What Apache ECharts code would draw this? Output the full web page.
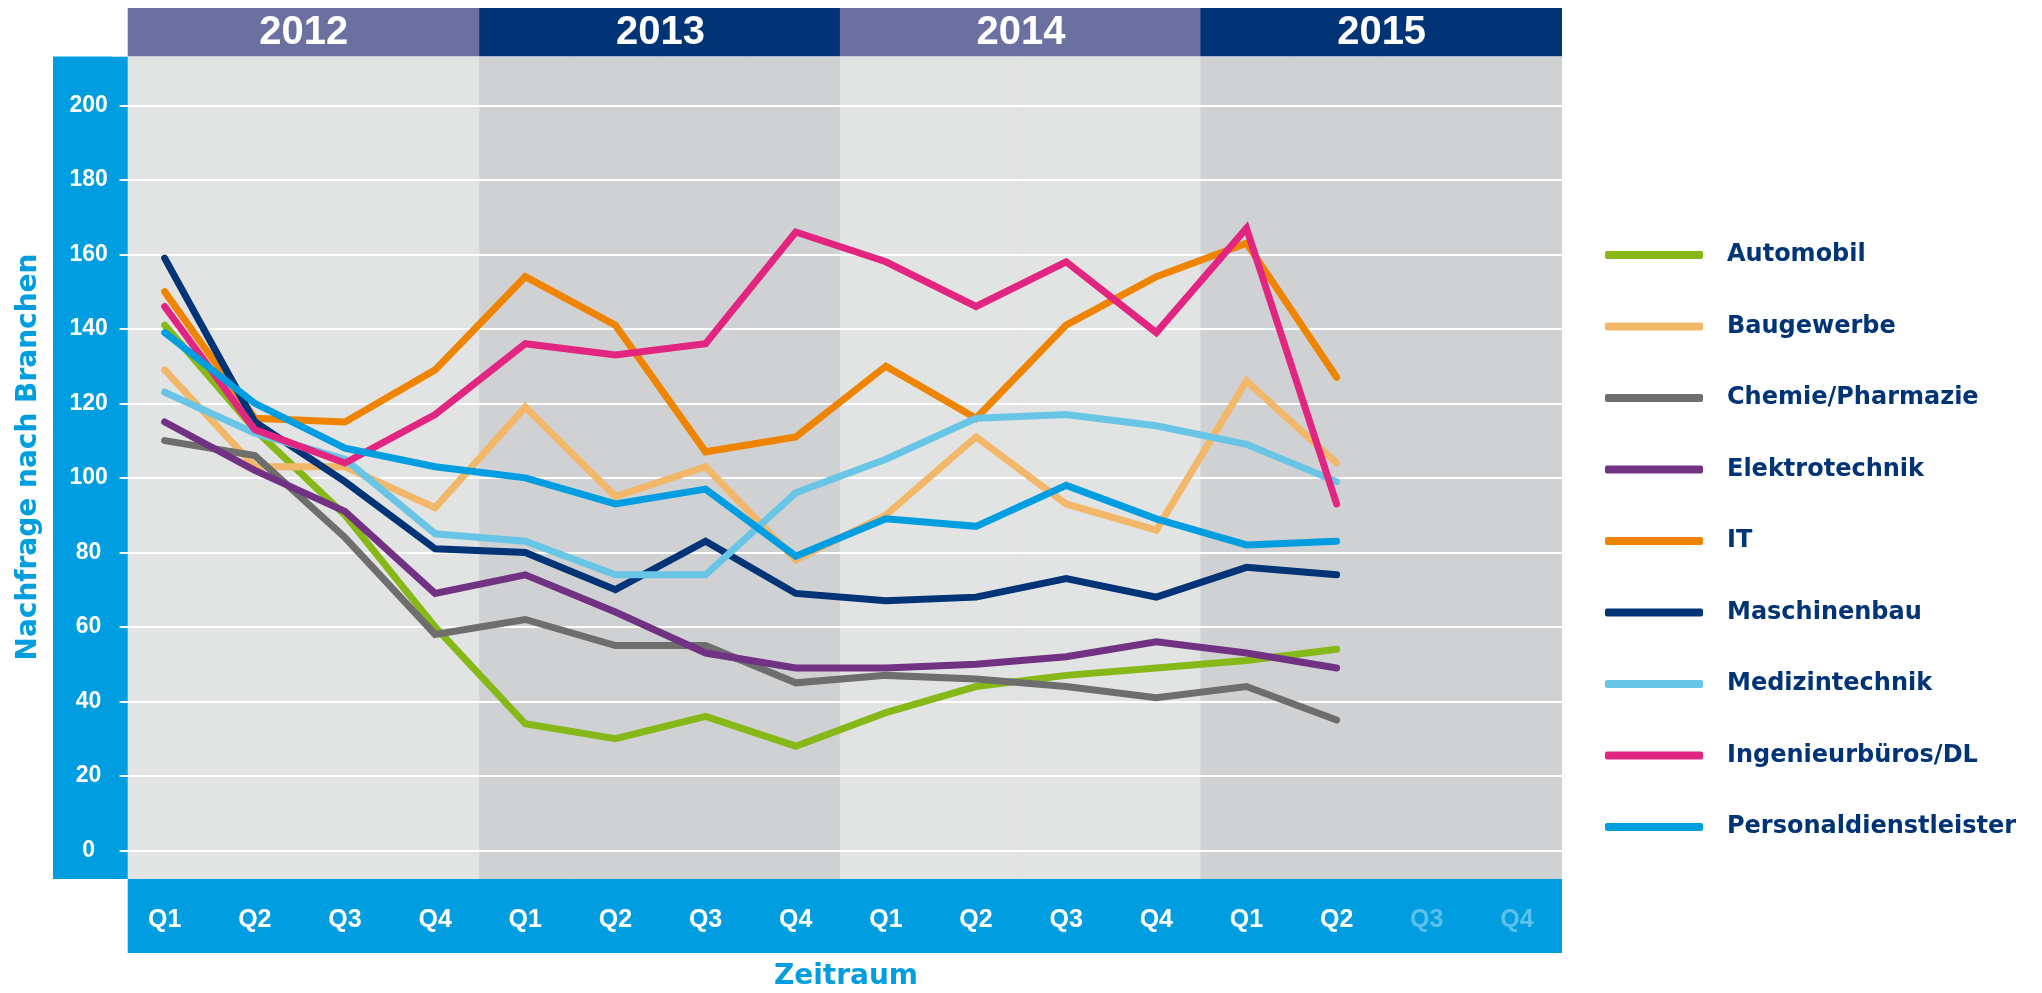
<!DOCTYPE html>
<html>
<head>
<meta charset="utf-8">
<script src="https://cdn.jsdelivr.net/npm/echarts@6/dist/echarts.min.js"></script>
<style>
  html, body { margin: 0; padding: 0; background: #fff; }
  #chart { width: 2042px; height: 993px; }
</style>
</head>
<body>
<div id="chart"></div>
<script>
// Achsen
const years = ['2012', '2013', '2014', '2015'];
const quarters = ['Q1', 'Q2', 'Q3', 'Q4', 'Q1', 'Q2', 'Q3', 'Q4', 'Q1', 'Q2', 'Q3', 'Q4', 'Q1', 'Q2', 'Q3', 'Q4'];
const yTicks = [0, 20, 40, 60, 80, 100, 120, 140, 160, 180, 200];

// Werte je Branche (Q1/2012 bis Q2/2015)
const automobil = [141, 113, 90, 60, 34, 30, 36, 28, 37, 44, 47, 49, 51, 54];
const baugewerbe = [129, 103, 103, 92, 119, 95, 103, 78, 90, 111, 93, 86, 126, 104];
const chemie = [110, 106, 84, 58, 62, 55, 55, 45, 47, 46, 44, 41, 44, 35];
const elektrotechnik = [115, 102, 91, 69, 74, 64, 53, 49, 49, 50, 52, 56, 53, 49];
const it = [150, 116, 115, 129, 154, 141, 107, 111, 130, 116, 141, 154, 163, 127];
const maschinenbau = [159, 115, 99, 81, 80, 70, 83, 69, 67, 68, 73, 68, 76, 74];
const medizintechnik = [123, 112, 105, 85, 83, 74, 74, 96, 105, 116, 117, 114, 109, 99];
const ingenieure = [146, 113, 104, 117, 136, 133, 136, 166, 158, 146, 158, 139, 167, 93];
const personal = [139, 120, 108, 103, 100, 93, 97, 79, 89, 87, 98, 89, 82, 83];

const seriesDefs = [
    { name: 'Automobil', data: automobil, color: '#86B817' },
    { name: 'Baugewerbe', data: baugewerbe, color: '#F3B76A' },
    { name: 'Chemie/Pharmazie', data: chemie, color: '#6E6E6D' },
    { name: 'Elektrotechnik', data: elektrotechnik, color: '#713283' },
    { name: 'IT', data: it, color: '#EE8400' },
    { name: 'Maschinenbau', data: maschinenbau, color: '#003476' },
    { name: 'Medizintechnik', data: medizintechnik, color: '#69C5E6' },
    { name: 'Ingenieurbüros/DL', data: ingenieure, color: '#E22580' },
    { name: 'Personaldienstleister', data: personal, color: '#009EE0' }
];

const headerColors = ['#6B70A1', '#003476'];
const bodyColors = ['#E2E3E3', '#D0D1D3'];
const blue = '#009EE0';
const arial = "'Liberation Sans', Arial, sans-serif";
const dejavu = "'DejaVu Sans', sans-serif";

const gridLeft = 119.6, gridRight = 480;

const chart = echarts.init(document.getElementById('chart'));

const headerData = quarters.map((q, i) => {
    const y = Math.floor(i / 4);
    return {
        value: 1,
        itemStyle: { color: headerColors[y % 2] },
        label: {
            show: i % 4 === 1,
            formatter: years[y],
            offset: [y === 0 ? 49 : 45, 1]
        }
    };
});
const bodyData = quarters.map((q, i) => ({
    value: 1,
    itemStyle: { color: bodyColors[Math.floor(i / 4) % 2] }
}));

const catAxis = (gridIndex) => ({
    type: 'category', gridIndex: gridIndex, data: quarters, show: false, boundaryGap: true
});

chart.setOption({
    animation: false,
    grid: [
        { left: gridLeft, right: gridRight, top: 8, height: 48.5 },
        { left: gridLeft, right: gridRight, top: 56.5, height: 822.5 },
        { left: gridLeft, right: gridRight, top: 105.3, height: 745.2 }
    ],
    xAxis: [
        catAxis(0),
        catAxis(1),
        {
            type: 'category', gridIndex: 2, data: quarters, boundaryGap: true,
            offset: 20, z: 3,
            axisLine: { show: false },
            axisTick: {
                alignWithLabel: true, length: 17, interval: (i) => i < 14,
                lineStyle: { color: '#fff', width: 3 }
            },
            axisLabel: {
                margin: 37, fontSize: 25, fontWeight: 'bold', fontFamily: arial,
                color: (v, i) => (i >= 14 ? '#5BC0EA' : '#fff')
            }
        },
        {
            type: 'category', gridIndex: 2, data: quarters, boundaryGap: true,
            offset: 20, z: 3,
            axisLine: { show: false },
            axisLabel: { show: false },
            axisTick: {
                alignWithLabel: true, length: 17, interval: (i) => i >= 14,
                lineStyle: { color: '#5BC2EC', width: 3 }
            }
        }
    ],
    yAxis: [
        { type: 'value', gridIndex: 0, min: 0, max: 1, show: false },
        { type: 'value', gridIndex: 1, min: 0, max: 1, show: false },
        {
            type: 'value', gridIndex: 2, min: yTicks[0], max: yTicks[yTicks.length - 1], interval: 20, z: 3,
            axisLine: { show: false },
            axisTick: { show: false },
            splitLine: { lineStyle: { color: '#fff', width: 2 } },
            axisLabel: {
                margin: 31, align: 'center', fontSize: 23, fontWeight: 'bold',
                fontFamily: arial, color: '#fff'
            }
        }
    ],
    legend: {
        orient: 'vertical',
        left: 1600,
        top: 238,
        icon: 'roundRect',
        itemWidth: 98,
        itemHeight: 8,
        itemGap: 47.5,
        selectedMode: false,
        data: seriesDefs.map(s => s.name),
        textStyle: {
            color: '#003476', fontSize: 24, fontWeight: 'bold', fontFamily: dejavu,
            lineHeight: 24, padding: [0, 0, 0, 19]
        }
    },
    graphic: [
        { type: 'rect', z: 1, shape: { x: 53, y: 56.5, width: 74.7, height: 822.5 }, style: { fill: blue } },
        { type: 'rect', z: 1, shape: { x: 127.7, y: 879, width: 1434.3, height: 74 }, style: { fill: blue } },
        { type: 'rect', z: 1, shape: { x: 112, y: 0, width: 15.7, height: 56.5 }, style: { fill: '#fff' } },
        { type: 'rect', z: 1, shape: { x: 1562, y: 0, width: 6, height: 880 }, style: { fill: '#fff' } },
        {
            type: 'text', z: 5, x: 28.5, y: 457, rotation: Math.PI / 2,
            style: {
                text: 'Nachfrage nach Branchen', fill: blue, align: 'center', verticalAlign: 'middle',
                font: 'bold 28px ' + dejavu
            }
        },
        {
            type: 'text', z: 5, x: 846, y: 977,
            style: {
                text: 'Zeitraum', fill: blue, align: 'center', verticalAlign: 'middle',
                font: 'bold 28px ' + dejavu
            }
        }
    ],
    series: [
        {
            type: 'bar', xAxisIndex: 0, yAxisIndex: 0, z: 0, silent: true,
            barWidth: 92, data: headerData,
            label: {
                position: 'inside', color: '#fff', fontSize: 40, fontWeight: 'bold', fontFamily: arial
            }
        },
        {
            type: 'bar', xAxisIndex: 1, yAxisIndex: 1, z: 0, silent: true,
            barWidth: 92, data: bodyData
        }
    ].concat(seriesDefs.map(s => ({
        name: s.name,
        type: 'line',
        xAxisIndex: 2,
        yAxisIndex: 2,
        z: 5,
        symbol: 'none',
        data: s.data,
        color: s.color,
        lineStyle: { width: 7, color: s.color, cap: 'round', join: 'miter' }
    })))
});
</script>
</body>
</html>
